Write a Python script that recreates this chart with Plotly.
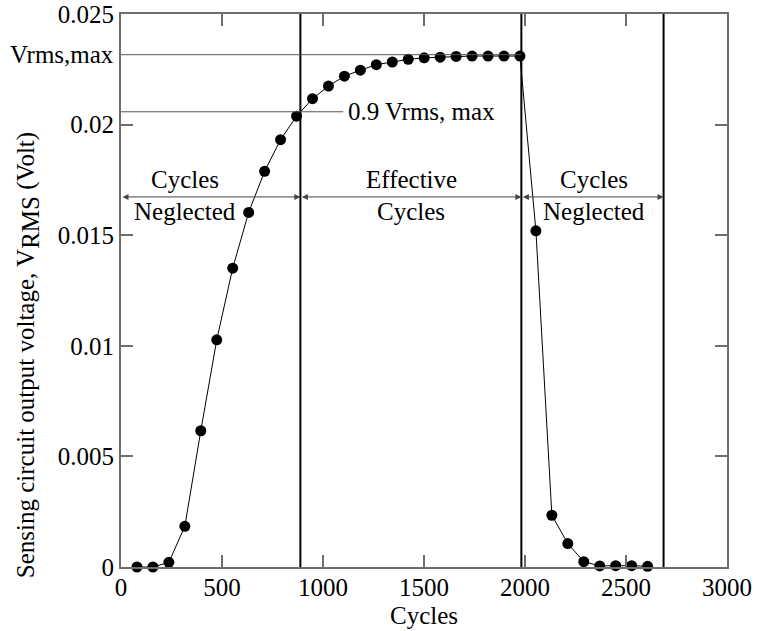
import plotly.graph_objects as go

# ---- data ----
cycles = [79, 158, 237, 316, 395, 474, 553, 632, 711, 790, 869, 948, 1027,
          1106, 1185, 1264, 1343, 1422, 1501, 1580, 1659, 1738, 1817, 1896, 1975,
          2054, 2133, 2212, 2291, 2370, 2449, 2528, 2607]
vrms = [0.0, 0.0, 0.00021, 0.00184, 0.00616, 0.01027, 0.01351, 0.01603, 0.01789,
        0.01932, 0.02038, 0.02117, 0.02174, 0.02219, 0.02246, 0.02271, 0.02283,
        0.02295, 0.02302, 0.02305, 0.02308, 0.0231, 0.0231, 0.0231, 0.0231,
        0.0152, 0.00234, 0.00106, 0.00024, 0.00005, 0.00006, 0.00006, 0.00003]
boundaries = [888, 1982, 2686]          # vertical separators (cycles)
vrms_max = 0.02316
vrms_09 = 0.02058
x_ticks = [0, 500, 1000, 1500, 2000, 2500, 3000]
y_ticks = [0, 0.005, 0.01, 0.015, 0.02, 0.025]
y_ticklabels = ["0", "0.005", "0.01", "0.015", "0.02", "0.025"]
region_top = ["Cycles", "Effective", "Cycles"]
region_bottom = ["Neglected", "Cycles", "Neglected"]

FONT = "Liberation Serif"
FS = 25
AXC = "#6e6e6e"

fig = go.Figure()
fig.add_trace(go.Scatter(
    x=cycles, y=vrms, mode="lines+markers",
    line=dict(color="black", width=1),
    marker=dict(color="black", size=11),
    showlegend=False, cliponaxis=False))

shapes = []
for b in boundaries:
    shapes.append(dict(type="line", xref="x", yref="y", x0=b, x1=b, y0=0, y1=0.025,
                       line=dict(color="black", width=2)))
shapes.append(dict(type="line", xref="x", yref="y", x0=0, x1=boundaries[1],
                   y0=vrms_max, y1=vrms_max, line=dict(color="#555555", width=1)))
shapes.append(dict(type="line", xref="x", yref="y", x0=0, x1=1100,
                   y0=vrms_09, y1=vrms_09, line=dict(color="#555555", width=1)))

arrow_y = 0.01673
edges = [0] + boundaries
label_x = [318, 1437, 2343]
ann = []
for i in range(3):
    ann.append(dict(x=edges[i + 1], y=arrow_y, ax=edges[i], ay=arrow_y,
                    xref="x", yref="y", axref="x", ayref="y", text="",
                    showarrow=True, arrowhead=2, arrowside="end+start",
                    arrowsize=1.2, arrowwidth=1, arrowcolor="#444444", standoff=0,
                    startstandoff=0))
    ann.append(dict(x=label_x[i], y=arrow_y, xref="x", yref="y", text=region_top[i],
                    showarrow=False, yanchor="middle", yshift=17,
                    font=dict(family=FONT, size=FS, color="black")))
    ann.append(dict(x=label_x[i], y=arrow_y, xref="x", yref="y", text=region_bottom[i],
                    showarrow=False, yanchor="middle", yshift=-15,
                    font=dict(family=FONT, size=FS, color="black")))

ann.append(dict(x=0, y=vrms_max, xref="paper", yref="y", text="Vrms,max",
                showarrow=False, xanchor="right", yanchor="middle", xshift=-5,
                font=dict(family=FONT, size=FS, color="black")))
ann.append(dict(x=1115, y=vrms_09, xref="x", yref="y", text="0.9 Vrms, max",
                showarrow=False, xanchor="left", yanchor="middle",
                font=dict(family=FONT, size=FS, color="black")))
ann.append(dict(x=0, y=0.383, xref="paper", yref="paper",
                text='Sensing circuit output voltage, V<sub><span style="font-size:25px">RMS</span></sub> (Volt)',
                textangle=-90, showarrow=False, xanchor="center", yanchor="middle",
                xshift=-93, font=dict(family=FONT, size=FS, color="black")))
ann.append(dict(x=0.5, y=0, xref="paper", yref="paper", text="Cycles",
                showarrow=False, xanchor="center", yanchor="bottom", yshift=-64,
                font=dict(family=FONT, size=FS, color="black")))

fig.update_layout(
    width=757, height=631,
    margin=dict(l=121, r=30, t=14, b=64),
    paper_bgcolor="white", plot_bgcolor="white",
    font=dict(family=FONT, size=FS, color="black"),
    shapes=shapes, annotations=ann,
    xaxis=dict(range=[0, 3000], tickvals=x_ticks, ticktext=[str(v) for v in x_ticks],
               ticks="inside", ticklen=12, tickwidth=1.5, tickcolor=AXC,
               showline=True, linecolor=AXC, linewidth=2, mirror="allticks",
               showgrid=False, zeroline=False, automargin=False,
               ticklabelstandoff=-3),
    yaxis=dict(range=[0, 0.025], tickvals=y_ticks, ticktext=y_ticklabels,
               ticks="inside", ticklen=12, tickwidth=1.5, tickcolor=AXC,
               showline=True, linecolor=AXC, linewidth=2, mirror="allticks",
               showgrid=False, zeroline=False, automargin=False),
)

fig.write_html("out.html")
